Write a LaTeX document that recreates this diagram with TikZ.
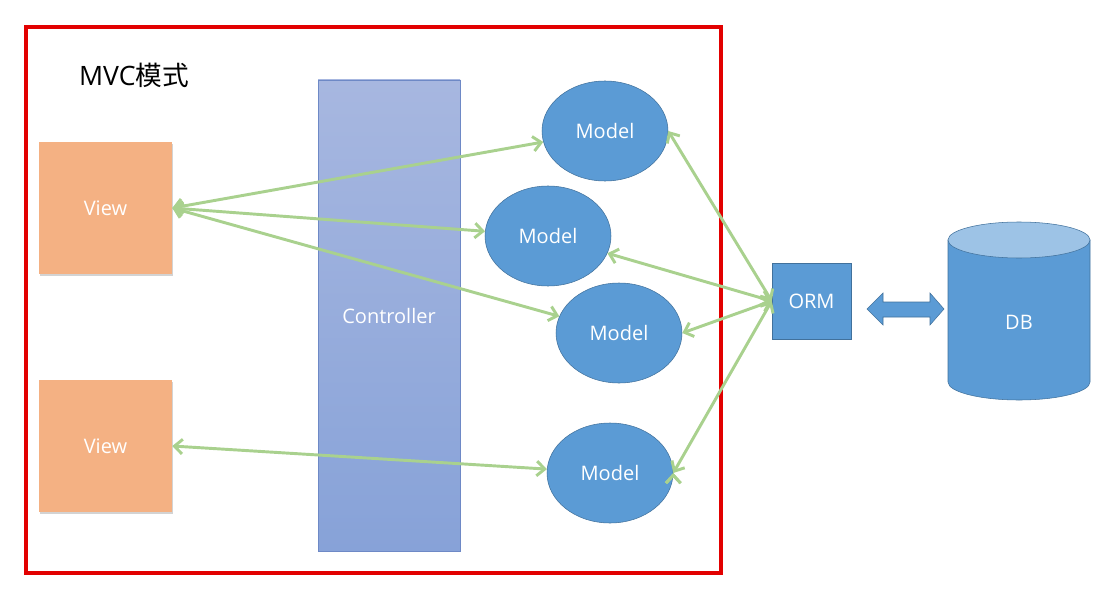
\documentclass[tikz,border=0pt]{standalone}
\usepackage{fontspec}
\setmainfont{Open Sans}
\newfontfamily\cjk{Noto Sans CJK SC}
\usetikzlibrary{arrows.meta,shapes.geometric,shadows}

\definecolor{viewfill}{RGB}{244,177,131}
\definecolor{modelfill}{RGB}{91,155,213}
\definecolor{modelline}{RGB}{65,113,156}
\definecolor{ctrltop}{RGB}{167,183,224}
\definecolor{ctrlbottom}{RGB}{135,162,216}
\definecolor{ctrlline}{RGB}{110,137,198}
\definecolor{linkgreen}{RGB}{169,209,142}
\definecolor{frame red}{RGB}{226,0,0}
\definecolor{dbtop}{RGB}{157,195,230}

\begin{document}
\begin{tikzpicture}[x=0.75pt,y=-0.75pt,
    every node/.style={font=\fontsize{15pt}{18pt}\selectfont,text=white},
    view node/.style={rectangle,fill=viewfill,minimum width=99.75pt,minimum height=99pt,
        drop shadow={shadow xshift=1pt,shadow yshift=-1.5pt,opacity=0.35}},
    model node/.style={ellipse,draw=modelline,fill=modelfill,minimum width=94.5pt,minimum height=75pt},
    link/.style={{Straight Barb[length=6pt,width=11pt]}-{Straight Barb[length=6pt,width=11pt]},
        draw=linkgreen,line width=2.2pt}]

        \useasboundingbox (0,0) rectangle (1099,592);

        % Frame
        \draw[frame red,line width=2.4pt] (26,27) rectangle (721,573);
        \node[text=black,font=\fontsize{20pt}{24pt}\selectfont] (title) at (134,75) {MVC{\cjk 模式}};

        % Define vertices
        \node[rectangle,draw=ctrlline,top color=ctrltop,bottom color=ctrlbottom,
            minimum width=106.5pt,minimum height=353.25pt] (ctrl) at (389,315.5) {};
        \node (ctrltext) at (389,316) {Controller};

        \node[view node] (v1) at (105.5,208) {View};
        \node[view node] (v2) at (105.5,446) {View};

        \node[model node] (m1) at (605,131) {Model};
        \node[model node] (m2) at (548,236) {Model};
        \node[model node] (m3) at (619,333) {Model};
        \node[model node] (m4) at (610,473) {Model};

        \node[rectangle,draw=modelline,fill=modelfill,minimum width=59.25pt,minimum height=57pt] (orm) at (811.5,301) {ORM};

        % Database cylinder
        \draw[draw=modelline,fill=modelfill] (948,240) -- (948,382)
            arc[start angle=180,end angle=0,x radius=71,y radius=18] -- (1090,240) -- cycle;
        \draw[draw=modelline,fill=dbtop] (1019,240) ellipse[x radius=71,y radius=18];
        \node (db) at (1019,322) {DB};

        % Block arrow ORM <-> DB
        \draw[draw=modelline,fill=modelfill] (867,309) -- (883,293) -- (883,302) -- (930,302)
            -- (930,293) -- (944,309) -- (930,325) -- (930,317) -- (883,317) -- (883,325) -- cycle;

        % Draw edges
        \path[link]
            (v1.east) edge (m1)
            (v1.east) edge (m2)
            (v1.east) edge (m3)
            (v2.east) edge (m4)
            (m1.east) edge (orm.west)
            (m2) edge (orm.west)
            (m3.east) edge (orm.west)
            (m4.east) edge (orm.west);

\end{tikzpicture}
\end{document}
